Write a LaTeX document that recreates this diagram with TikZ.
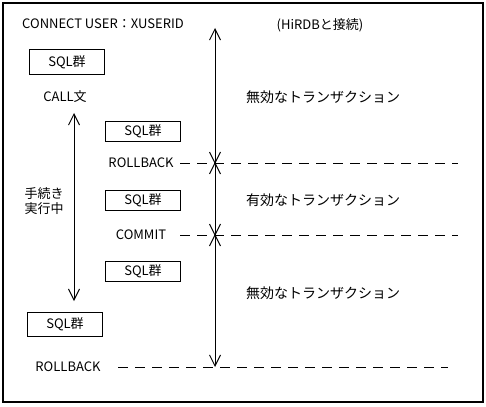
\documentclass[tikz,border=0pt]{standalone}
\usepackage{fontspec}
\newfontfamily\jp{Noto Sans CJK JP}
\usetikzlibrary{arrows.meta}
\begin{document}
\begin{tikzpicture}[x=1pt,y=-1pt,
  every node/.style={font=\jp\fontsize{13}{15}\selectfont, inner sep=0pt},
  sqlbox/.style={draw, line width=1pt, minimum width=75pt, anchor=north west},
  lbl/.style={anchor=center},
  rlbl/.style={anchor=west, font=\jp\fontsize{14}{16}\selectfont},
  dash line/.style={line width=1pt, dash pattern=on 10pt off 7pt},
  darrow/.style={line width=1pt, {Straight Barb[length=11pt,width=11pt]}-{Straight Barb[length=11pt,width=11pt]}},
  xmark/.style={line width=1pt}
]
\useasboundingbox (0,0) rectangle (486,406);
\draw[line width=1.2pt] (3,3) rectangle (483,402);

\node[lbl] (connect) at (103,24) {CONNECT USER：XUSERID};
\node[lbl] (hirdb) at (320,25) {(HiRDBと接続)};

\node[sqlbox, minimum height=25pt] (sql1) at (29,49) {SQL群};
\node[lbl] (call) at (65,97) {CALL文};
\node[sqlbox, minimum height=20pt] (sql2) at (105,121) {SQL群};
\node[lbl] (rb1) at (141,163) {ROLLBACK};
\node[lbl, align=center] (proc) at (44,201) {手続き\\実行中};
\node[sqlbox, minimum height=20pt] (sql3) at (105,190) {SQL群};
\node[lbl] (commit) at (141,235) {COMMIT};
\node[sqlbox, minimum height=20pt] (sql4) at (105,261) {SQL群};
\node[sqlbox, minimum height=24pt] (sql5) at (27,312) {SQL群};
\node[lbl] (rb2) at (68,367) {ROLLBACK};

\node[rlbl] (muko1) at (246,97) {無効なトランザクション};
\node[rlbl] (yuko) at (246,200) {有効なトランザクション};
\node[rlbl] (muko2) at (246,293) {無効なトランザクション};

% small double arrow
\coordinate (sa) at (74,113);
\coordinate (sb) at (74,301);
\draw[darrow] (sa) -- (sb);

% big double arrow
\coordinate (ba) at (215,28);
\coordinate (bb) at (215,367);
\draw[darrow] (ba) -- (bb);

% dashed lines
\coordinate (d1s) at (180,163); \coordinate (d1e) at (458,163);
\coordinate (d2s) at (180,235); \coordinate (d2e) at (458,235);
\coordinate (d3s) at (118,367); \coordinate (d3e) at (448,367);
\draw[dash line] (d1s) -- (d1e);
\draw[dash line] (d2s) -- (d2e);
\draw[dash line] (d3s) -- (d3e);

% X marks
\coordinate (x1) at (215,163);
\coordinate (x2) at (215,235);
\foreach \c in {x1,x2}{
  \draw[xmark] ([shift={(-5.5,-11)}]\c) -- ([shift={(5.5,11)}]\c);
  \draw[xmark] ([shift={(5.5,-11)}]\c) -- ([shift={(-5.5,11)}]\c);
}
\end{tikzpicture}
\end{document}
